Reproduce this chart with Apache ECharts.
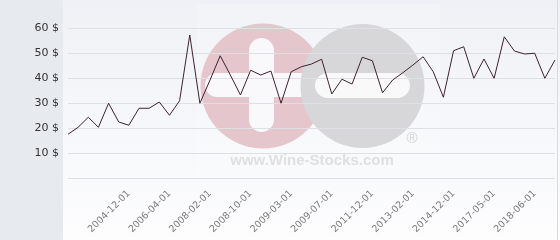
<!DOCTYPE html>
<html>
<head>
<meta charset="utf-8">
<script src="https://cdn.jsdelivr.net/npm/echarts@6/dist/echarts.min.js"></script>
<style>
html,body{margin:0;padding:0;background:#fff;}
#chart{width:560px;height:240px;}
</style>
</head>
<body>
<div id="chart"></div>
<script>
const categories = [
  '2003-01-01','2003-05-01','2003-09-01','2004-01-01','2004-05-01','2004-08-01',
  '2004-12-01','2005-03-01','2005-07-01','2005-11-01','2006-04-01','2006-10-01',
  '2007-04-01','2007-09-01','2008-02-01','2008-04-01','2008-06-01','2008-08-01',
  '2008-10-01','2008-11-01','2008-12-01','2009-01-01','2009-03-01','2009-04-01',
  '2009-05-01','2009-06-01','2009-07-01','2010-01-01','2010-07-01','2011-03-01',
  '2011-12-01','2012-03-01','2012-06-01','2012-10-01','2013-02-01','2013-08-01',
  '2014-01-01','2014-06-01','2014-12-01','2015-07-01','2016-01-01','2016-09-01',
  '2017-05-01','2017-08-01','2017-11-01','2018-03-01','2018-06-01','2018-11-01',
  '2019-04-01'
];
const prices = [
  17.5, 20.3, 24.3, 20.3, 29.9, 22.4, 21.1, 27.9, 27.9, 30.4,
  25.1, 30.9, 57.2, 29.9, 39.2, 48.9, 41.2, 33.2, 43.1, 41.2,
  42.8, 29.9, 42.5, 44.5, 45.6, 47.5, 33.6, 39.5, 37.6, 48.3,
  46.9, 34.1, 39.2, 42.1, 45.2, 48.5, 42.5, 32.3, 50.9, 52.5,
  39.9, 47.6, 39.9, 56.5, 50.8, 49.6, 49.9, 39.9, 47.2
];
const shownLabels = ['2004-12-01','2006-04-01','2008-02-01','2008-10-01','2009-03-01',
  '2009-07-01','2011-12-01','2013-02-01','2014-12-01','2017-05-01','2018-06-01'];
const yTicks = [0, 10, 20, 30, 40, 50, 60];
const currency = '$';
const watermarkText = 'www.Wine-Stocks.com';

const chart = echarts.init(document.getElementById('chart'), null, {renderer: 'canvas'});
chart.setOption({
  animation: false,
  backgroundColor: '#ffffff',
  grid: {left: 68, right: 5, top: 28, bottom: 62, containLabel: false},
  graphic: [
    {type: 'rect', z: -20, silent: true, shape: {x: 63, y: 0, width: 497, height: 240},
     style: {fill: new echarts.graphic.LinearGradient(0, 0, 0, 1, [
       {offset: 0, color: '#eff1f6'}, {offset: 1, color: '#fdfdfe'}])}},
    {type: 'rect', z: -19, silent: true, shape: {x: 0, y: 0, width: 63, height: 240},
     style: {fill: '#e7eaee'}},
    {type: 'rect', z: -18, silent: true, shape: {x: 197, y: 4, width: 243, height: 169},
     style: {fill: '#ffffff', opacity: 0.18}},
    {type: 'circle', z: -15, silent: true, shape: {cx: 263, cy: 86, r: 62.5},
     style: {fill: '#e5c6cd'}},
    {type: 'rect', z: -14, silent: true, shape: {x: 249, y: 38, width: 25, height: 94, r: 12.5},
     style: {fill: '#f9f8fa'}},
    {type: 'rect', z: -14, silent: true, shape: {x: 205, y: 73, width: 115, height: 24, r: 12},
     style: {fill: '#f9f8fa'}},
    {type: 'circle', z: -13, silent: true, shape: {cx: 362.5, cy: 86, r: 62},
     style: {fill: '#d7d7d9'}},
    {type: 'rect', z: -12, silent: true, shape: {x: 315, y: 73, width: 95, height: 25, r: 12.5},
     style: {fill: '#f9f9fa'}},
    {type: 'text', z: -12, silent: true, x: 412, y: 139,
     style: {text: '\u00ae', fill: '#d4d4d6', font: '15px "Liberation Sans"', align: 'center', verticalAlign: 'middle'}},
    {type: 'text', z: -12, silent: true, x: 312, y: 161,
     style: {text: watermarkText, fill: '#e0e0e0', font: 'bold 15px "Liberation Sans"', align: 'center', verticalAlign: 'middle'}},
    {type: 'line', z: 10, silent: true, shape: {x1: 557.5, y1: 0, x2: 557.5, y2: 240},
     style: {stroke: '#dadbde', lineWidth: 1}}
  ],
  xAxis: {
    type: 'category',
    data: categories,
    boundaryGap: false,
    axisLine: {show: false},
    axisTick: {show: false},
    splitLine: {show: false},
    axisLabel: {
      interval: (i, name) => shownLabels.indexOf(name) >= 0,
      rotate: 45,
      margin: 14,
      color: '#7a7a7a',
      fontSize: 9.5,
      fontFamily: 'DejaVu Sans'
    }
  },
  yAxis: {
    type: 'value',
    min: yTicks[0],
    max: yTicks[yTicks.length - 1],
    interval: 10,
    axisLine: {show: false},
    axisTick: {show: false},
    splitLine: {lineStyle: {color: '#dfe0e3', width: 1}},
    axisLabel: {
      formatter: (v) => v === 0 ? '' : v + ' ' + currency,
      color: '#333333',
      fontSize: 11,
      margin: 9,
      fontFamily: 'DejaVu Sans'
    }
  },
  series: [{
    type: 'line',
    data: prices,
    symbol: 'none',
    z: 5,
    lineStyle: {color: '#3d2230', width: 1}
  }]
});
</script>
</body>
</html>
